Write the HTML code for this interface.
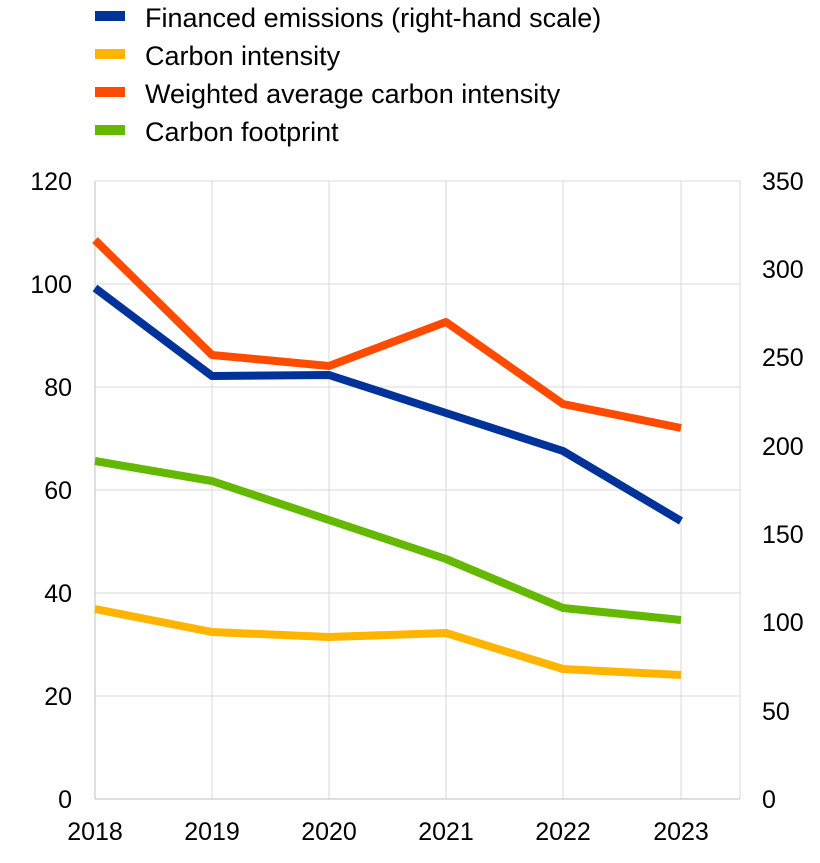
<!DOCTYPE html>
<html><head><meta charset="utf-8"><style>
body{margin:0;background:#fff;}
svg text{font-family:"Liberation Sans",Arial,sans-serif;fill:#000;}
</style></head><body>
<svg width="820" height="858" viewBox="0 0 820 858" xmlns="http://www.w3.org/2000/svg">
<g stroke="#d9d9d9" stroke-width="1">
<line x1="95" y1="181" x2="740" y2="181"/>
<line x1="95" y1="284" x2="740" y2="284"/>
<line x1="95" y1="387" x2="740" y2="387"/>
<line x1="95" y1="490" x2="740" y2="490"/>
<line x1="95" y1="593" x2="740" y2="593"/>
<line x1="95" y1="696" x2="740" y2="696"/>
<line x1="212" y1="181" x2="212" y2="799"/>
<line x1="329" y1="181" x2="329" y2="799"/>
<line x1="446" y1="181" x2="446" y2="799"/>
<line x1="563" y1="181" x2="563" y2="799"/>
<line x1="681" y1="181" x2="681" y2="799"/>
<line x1="740" y1="181" x2="740" y2="799"/>
</g>
<line x1="95" y1="181" x2="95" y2="799" stroke="#bfbfbf"/>
<line x1="95" y1="799" x2="740" y2="799" stroke="#bfbfbf"/>
<g fill="none" stroke-width="8" stroke-linejoin="round">
<polyline stroke="#ffb400" points="95,609 212,632 329,637 446,633 563,669 681,675"/>
<polyline stroke="#65b800" points="95,461 212,481 329,520 446,559 563,608 681,620"/>
<polyline stroke="#ff4b00" points="95,240 212,355 329,366 446,322 563,404 681,428"/>
<polyline stroke="#003299" points="95,288 212,376 329,375 446,413 563,451 681,521"/>
</g>
<g font-size="25" text-anchor="end">
<text x="72" y="190">120</text><text x="72" y="293">100</text><text x="72" y="396">80</text>
<text x="72" y="499">60</text><text x="72" y="602">40</text><text x="72" y="705">20</text><text x="72" y="808">0</text>
</g>
<g font-size="25" text-anchor="start">
<text x="762" y="190">350</text><text x="762" y="278">300</text><text x="762" y="366">250</text>
<text x="762" y="455">200</text><text x="762" y="543">150</text><text x="762" y="631">100</text>
<text x="762" y="720">50</text><text x="762" y="808">0</text>
</g>
<g font-size="25" text-anchor="middle">
<text x="95" y="840">2018</text><text x="212" y="840">2019</text><text x="329" y="840">2020</text>
<text x="446" y="840">2021</text><text x="563" y="840">2022</text><text x="681" y="840">2023</text>
</g>
<rect x="95" y="11" width="30" height="10" fill="#003299"/>
<rect x="95" y="49" width="30" height="10" fill="#ffb400"/>
<rect x="95" y="87" width="30" height="10" fill="#ff4b00"/>
<rect x="95" y="125" width="30" height="10" fill="#65b800"/>
<g font-size="27">
<text x="145" y="27">Financed emissions (right-hand scale)</text>
<text x="145" y="65">Carbon intensity</text>
<text x="145" y="103">Weighted average carbon intensity</text>
<text x="145" y="141">Carbon footprint</text>
</g>
</svg>
</body></html>
